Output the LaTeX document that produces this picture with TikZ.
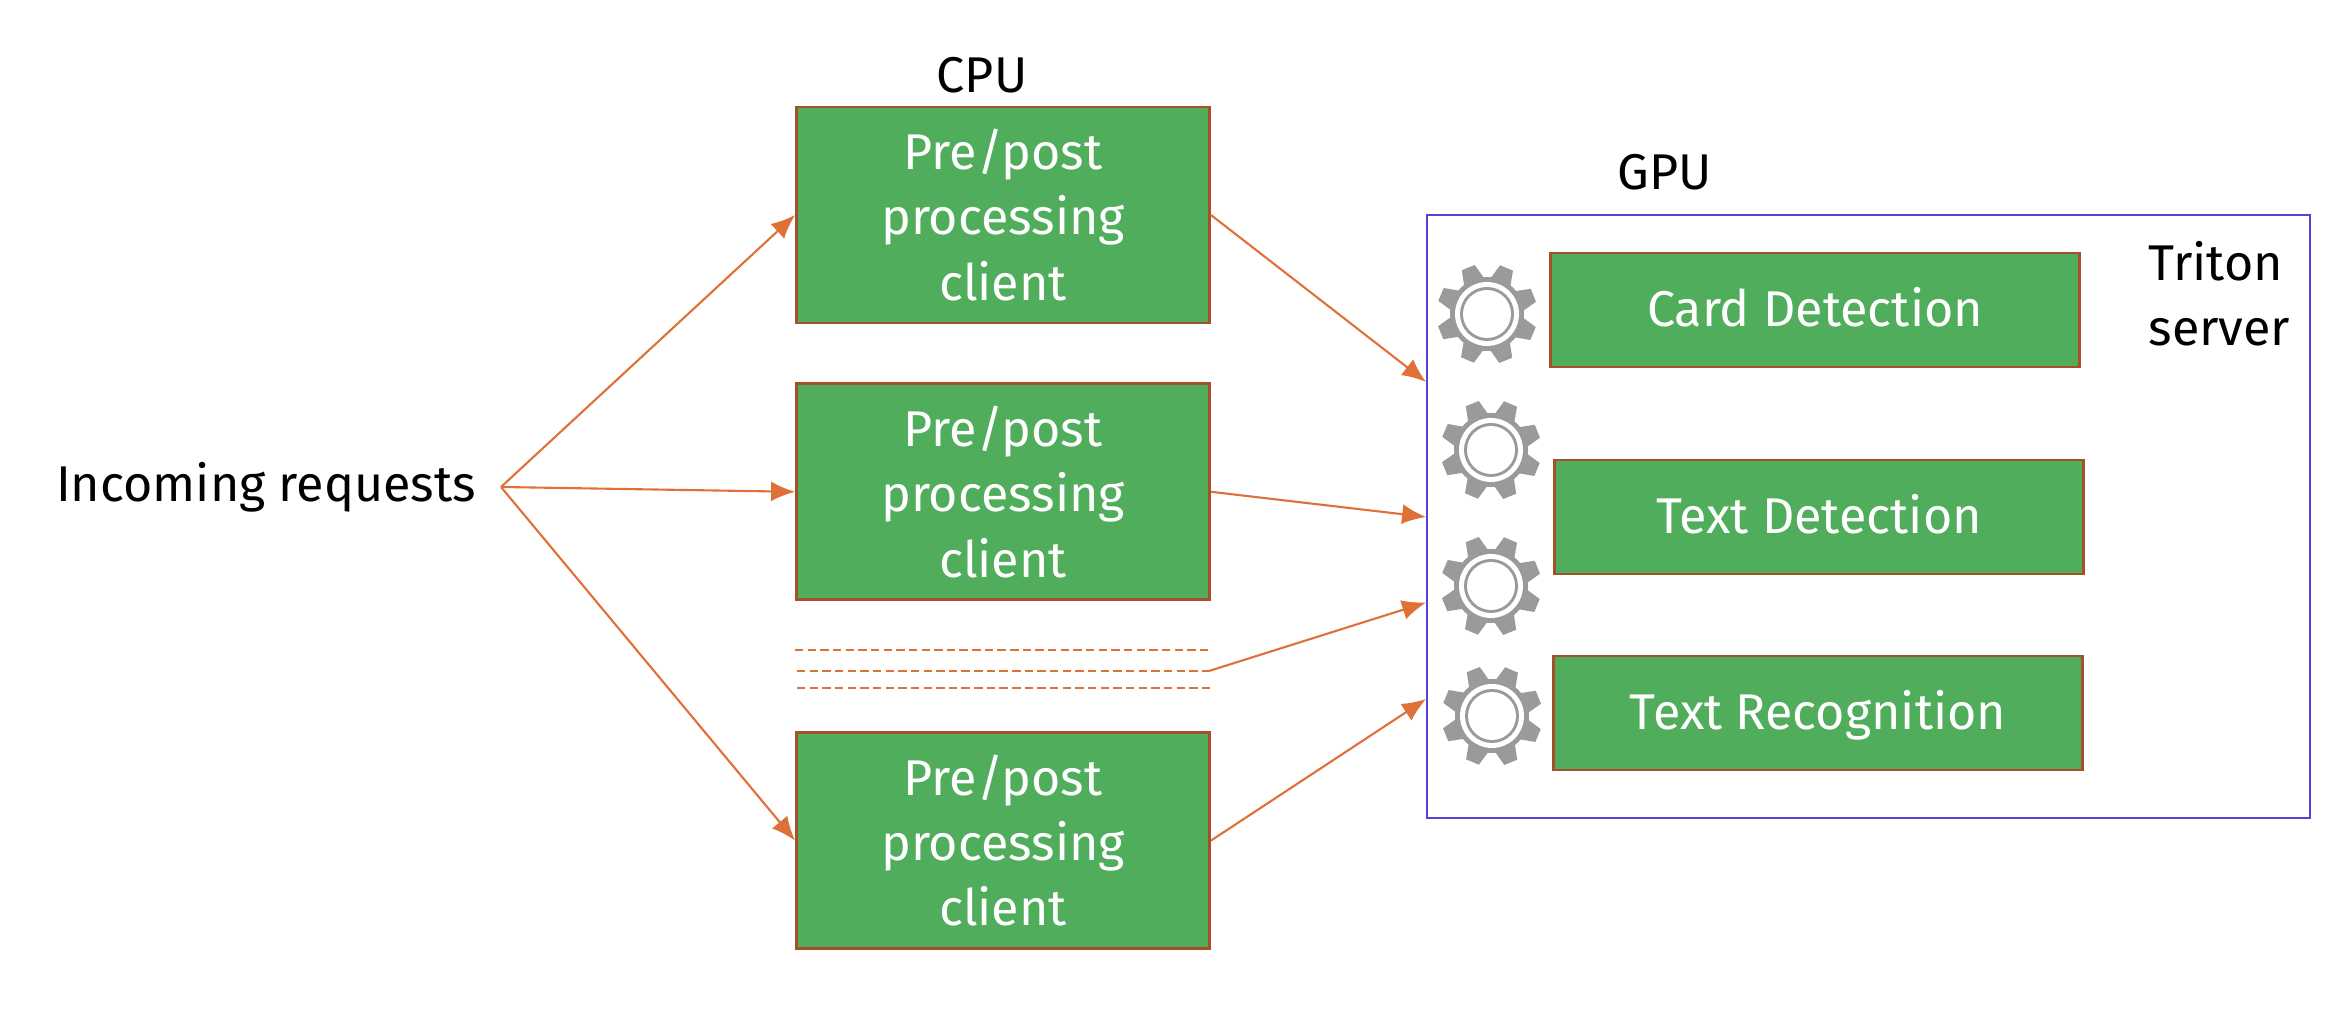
\documentclass[tikz,border=0pt]{standalone}
\usepackage{fontspec}
\setmainfont{Fira Sans}
\usetikzlibrary{arrows.meta,positioning,calc}
\definecolor{boxgreen}{HTML}{50AD5C}
\definecolor{boxedge}{HTML}{A5502A}
\definecolor{linkorange}{HTML}{DE7138}
\definecolor{serverblue}{HTML}{5B3FD6}
\definecolor{geargray}{HTML}{9A9A9A}
\tikzset{
  gear/.pic={
    \fill[geargray] (0,0) circle (0.37);
    \foreach \a in {22,67,112,157,202,247,292,337}
      \fill[geargray,rotate=\a] (0.33,-0.11) -- (0.50,-0.07) -- (0.50,0.07) -- (0.33,0.11) -- cycle;
    \fill[white] (0,0) circle (0.32);
    \fill[geargray] (0,0) circle (0.27);
    \fill[white] (0,0) circle (0.24);
  }
}

\begin{document}
\begin{tikzpicture}[
  node distance=0.58cm and 1.4cm,
  plain/.style={font=\fontsize{14.3}{18.6}\selectfont,align=left,inner sep=0pt},
  clientbox/.style={draw=boxedge,line width=0.8pt,fill=boxgreen,text=white,align=center,inner sep=0pt,
    font=\fontsize{14.3}{18.6}\selectfont,minimum width=4.13cm,minimum height=2.16cm},
  modelbox/.style={clientbox,minimum width=5.29cm,minimum height=1.14cm,text height=12.2pt,text depth=3pt},
  arrow/.style={-{Latex[length=2.4mm,width=2.0mm]},draw=linkorange,line width=0.6pt},
  dashline/.style={draw=linkorange,line width=0.6pt,dash pattern=on 2.4pt off 1.2pt}
]
  \useasboundingbox (0,0) rectangle (23.44,10.14);

  \node (requests) [plain] at (2.66,5.27) {Incoming requests};
  \coordinate (fork) at (5.01,5.27);

  \node (client1) [clientbox] at (10.03,7.99) {Pre/post\\processing\\client};
  \node (client2) [clientbox,below=of client1] {Pre/post\\processing\\client};
  \node (client3) [clientbox,below=1.30cm of client2] {Pre/post\\processing\\client};
  \node (cpu) [plain] at (9.82,9.39) {CPU};

  \node (server) [draw=serverblue,line width=0.5pt,minimum width=8.83cm,minimum height=6.03cm,inner sep=0pt] at (18.685,4.975) {};
  \node (gpu) [plain] at (16.65,8.42) {GPU};
  \node (triton) [plain,anchor=west] at (21.48,7.20) {Triton\\server};

  \node (card) [modelbox] at (18.15,7.04) {Card Detection};
  \node (textdet) [modelbox] at (18.19,4.97) {Text Detection};
  \node (textrec) [modelbox] at (18.18,3.01) {Text Recognition};

  \pic at (14.87,7.00) {gear};
  \pic at (14.91,5.64) {gear};
  \pic at (14.91,4.28) {gear};
  \pic at (14.92,2.98) {gear};

  \coordinate (dash1a) at (7.95,3.64);
  \coordinate (dash1b) at (12.08,3.64);
  \coordinate (dash2a) at (7.97,3.43);
  \coordinate (dash2b) at (12.09,3.43);
  \coordinate (dash3a) at (7.97,3.26);
  \coordinate (dash3b) at (12.10,3.26);

  \draw[dashline] (dash1a)--(dash1b);
  \draw[dashline] (dash2a)--(dash2b);
  \draw[dashline] (dash3a)--(dash3b);

  \draw[arrow] (fork)--(client1.west);
  \draw[arrow] (fork)--(client2.west);
  \draw[arrow] (fork)--(client3.west);
  \draw[arrow] (client1.east)--([yshift=1.345cm]server.west);
  \draw[arrow] (client2.east)--([yshift=-0.005cm]server.west);
  \draw[arrow] (dash2b)--([yshift=-0.86cm]server.west);
  \draw[arrow] (client3.east)--([yshift=-1.825cm]server.west);
\end{tikzpicture}
\end{document}
